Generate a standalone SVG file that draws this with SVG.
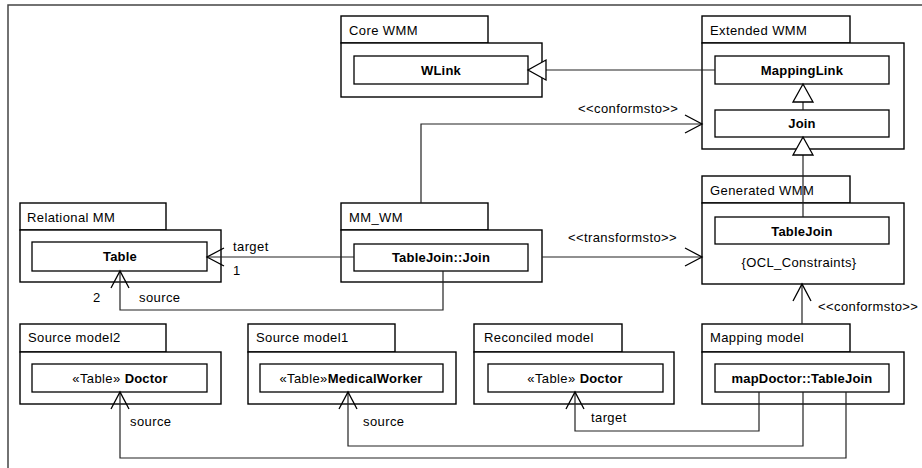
<svg xmlns="http://www.w3.org/2000/svg" width="922" height="468" viewBox="0 0 922 468">
<style>
text{font-family:"Liberation Sans",Arial,sans-serif;font-size:13px;fill:#000;letter-spacing:0.4px}
.b{font-weight:bold;letter-spacing:0.2px}
.c{text-anchor:middle}
.pk{fill:#fff;stroke:#000;stroke-width:1.4}
.in{fill:#fff;stroke:#000;stroke-width:1.3}
.ln{fill:none;stroke:#222;stroke-width:1.2}
</style>
<defs>
<marker id="open" markerUnits="userSpaceOnUse" markerWidth="20" markerHeight="22" refX="17" refY="9" orient="auto" viewBox="-1 -1 20 20">
<path d="M0,0 L17,9 L0,18" fill="none" stroke="#000" stroke-width="1.3"/>
</marker>
<marker id="tri" markerUnits="userSpaceOnUse" markerWidth="22" markerHeight="24" refX="18" refY="10" orient="auto" viewBox="-1 -1 22 22">
<path d="M0,0 L18,10 L0,20 Z" fill="#fff" stroke="#000" stroke-width="1.3"/>
</marker>
</defs>
<rect width="922" height="468" fill="#fff"/>
<path d="M8,468 V5 H922" fill="none" stroke="#444" stroke-width="1.5"/>

<g id="core-wmm">
<rect class="pk" x="341" y="16" width="147" height="27"/>
<rect class="pk" x="341" y="43" width="201" height="54"/>
<text x="349" y="35">Core WMM</text>
<rect class="in" x="354" y="56" width="174" height="28"/>
<text class="b c" x="441" y="75">WLink</text>
</g>

<g id="extended-wmm">
<rect class="pk" x="702" y="16" width="148" height="27"/>
<rect class="pk" x="702" y="43" width="202" height="106"/>
<text x="710" y="35">Extended WMM</text>
<rect class="in" x="715" y="56" width="174" height="28"/>
<text class="b c" x="802" y="75">MappingLink</text>
<rect class="in" x="715" y="110" width="174" height="27"/>
<text class="b c" x="802" y="128">Join</text>
</g>

<g id="generated-wmm">
<rect class="pk" x="702" y="176" width="148" height="27"/>
<rect class="pk" x="702" y="203" width="202" height="81"/>
<text x="710" y="195">Generated WMM</text>
<rect class="in" x="715" y="217" width="174" height="27"/>
<text class="b c" x="802" y="236">TableJoin</text>
<text class="c" x="799" y="267">{OCL_Constraints}</text>
</g>

<g id="relational-mm">
<rect class="pk" x="20" y="203" width="146" height="27"/>
<rect class="pk" x="20" y="230" width="201" height="52"/>
<text x="27" y="222">Relational MM</text>
<rect class="in" x="32" y="242" width="175" height="29"/>
<text class="b c" x="120" y="261">Table</text>
</g>

<g id="mm-wm">
<rect class="pk" x="341" y="203" width="147" height="27"/>
<rect class="pk" x="341" y="230" width="201" height="52"/>
<text x="349" y="222">MM_WM</text>
<rect class="in" x="354" y="244" width="174" height="27"/>
<text class="b c" x="441" y="262">TableJoin::Join</text>
</g>

<g id="source-model2">
<rect class="pk" x="20" y="324" width="146" height="28"/>
<rect class="pk" x="20" y="352" width="201" height="52"/>
<text x="28" y="342">Source model2</text>
<rect class="in" x="32" y="364" width="175" height="28"/>
<text class="c" x="120" y="383">«Table» <tspan class="b">Doctor</tspan></text>
</g>

<g id="source-model1">
<rect class="pk" x="248" y="324" width="147" height="28"/>
<rect class="pk" x="248" y="352" width="208" height="52"/>
<text x="256" y="342">Source model1</text>
<rect class="in" x="260" y="364" width="183" height="28"/>
<text class="c" x="351" y="383">«Table»<tspan class="b">MedicalWorker</tspan></text>
</g>

<g id="reconciled-model">
<rect class="pk" x="474" y="324" width="148" height="28"/>
<rect class="pk" x="474" y="352" width="200" height="52"/>
<text x="484" y="342">Reconciled model</text>
<rect class="in" x="488" y="364" width="175" height="28"/>
<text class="c" x="575" y="383">«Table» <tspan class="b">Doctor</tspan></text>
</g>

<g id="mapping-model">
<rect class="pk" x="702" y="324" width="148" height="28"/>
<rect class="pk" x="702" y="352" width="202" height="52"/>
<text x="710" y="342">Mapping model</text>
<rect class="in" x="715" y="364" width="174" height="28"/>
<text class="b c" x="802" y="383">mapDoctor::TableJoin</text>
</g>

<g id="connectors">
<path class="ln" d="M715,70 H528" marker-end="url(#tri)"/>
<path class="ln" d="M803,110 V84" marker-end="url(#tri)"/>
<path class="ln" d="M803,217 V137" marker-end="url(#tri)"/>
<path class="ln" d="M421,203 V124 H702" marker-end="url(#open)"/>
<text x="578" y="113">&lt;&lt;conformsto&gt;&gt;</text>
<path class="ln" d="M542,257 H702" marker-end="url(#open)"/>
<text x="568" y="242">&lt;&lt;transformsto&gt;&gt;</text>
<path class="ln" d="M354,257 H207" marker-end="url(#open)"/>
<text x="233" y="251">target</text>
<text x="233" y="275">1</text>
<path class="ln" d="M443,271 V310 H120 V271" marker-end="url(#open)"/>
<text x="93" y="302">2</text>
<text x="139" y="302">source</text>
<path class="ln" d="M802,324 V284" marker-end="url(#open)"/>
<text x="818" y="311">&lt;&lt;conformsto&gt;&gt;</text>
<path class="ln" d="M759,392 V431 H575 V392" marker-end="url(#open)"/>
<text x="591" y="422">target</text>
<path class="ln" d="M803,392 V446 H348 V392" marker-end="url(#open)"/>
<text x="363" y="426">source</text>
<path class="ln" d="M846,392 V458 H120 V392" marker-end="url(#open)"/>
<text x="130" y="426">source</text>
</g>
</svg>
